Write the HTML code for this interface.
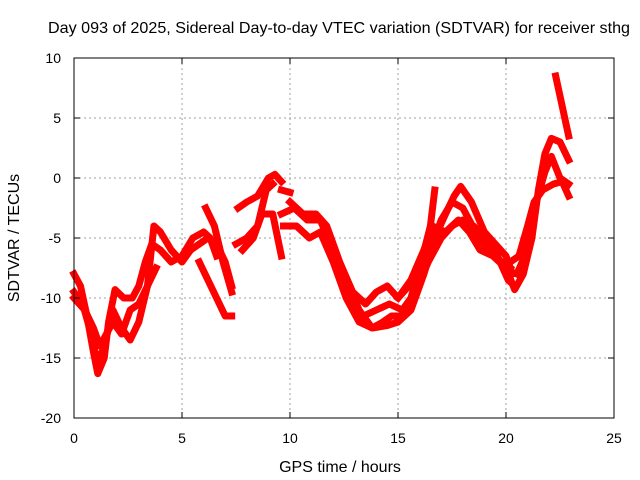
<!DOCTYPE html>
<html><head><meta charset="utf-8"><style>
body{margin:0;background:#fff}
svg{display:block;font-family:"Liberation Sans",sans-serif}
</style></head><body>
<svg id="chart" width="640" height="480">
<rect width="640" height="480" fill="#fff"/>
<text x="339" y="33" text-anchor="middle" font-size="16" textLength="582" lengthAdjust="spacingAndGlyphs">Day 093 of 2025, Sidereal Day-to-day VTEC variation (SDTVAR) for receiver sthg</text>
<text x="340" y="472" text-anchor="middle" font-size="16">GPS time / hours</text>
<text transform="translate(19,238) rotate(-90)" text-anchor="middle" font-size="16">SDTVAR / TECUs</text>
<g id="grid"></g><g id="series"></g><g id="axes"></g>
</svg>
<script>
const xTicks=[0,5,10,15,20,25];
const yTicks=[10,5,0,-5,-10,-15,-20];
const s1=[[0,-8],[0.3,-9],[0.6,-11.5],[0.9,-14.5],[1.1,-16.3],[1.4,-15],[1.6,-12],[1.9,-9.3],[2.3,-10],[2.7,-10],[3.0,-9],[3.3,-7],[3.6,-5.5],[4.0,-6],[4.5,-7],[5.0,-6.5],[5.5,-5],[6.0,-4.5],[6.3,-5],[6.6,-6.5]];
const s2=[[0,-9.5],[0.4,-10.5],[0.8,-13],[1.1,-15.5],[1.4,-14],[1.8,-11],[2.2,-12.5],[2.6,-13.5],[3.0,-12],[3.4,-9],[3.7,-4],[4.0,-4.5],[4.5,-6],[5.0,-7],[5.4,-6],[5.8,-5.5],[6.2,-5],[6.6,-5.5],[7.0,-7],[7.3,-9]];
const s3=[[0,-10],[0.5,-11],[0.9,-12.5],[1.2,-14],[1.5,-13],[1.8,-12],[2.2,-13],[2.6,-11],[3.0,-10.5],[3.4,-9],[3.8,-7.5]];
const s4=[[5.8,-7],[6.2,-8.5],[6.6,-10],[7.0,-11.5],[7.3,-11.5]];
const s5=[[6.1,-2.5],[6.5,-4],[6.9,-7],[7.3,-9.5]];
const s6=[[7.6,-2.5],[8.0,-2],[8.5,-1.5],[9.0,0],[9.3,0.3],[9.6,-0.3]];
const s7=[[7.5,-5.5],[8.0,-5],[8.5,-4],[8.9,-1],[9.2,-0.5]];
const s8=[[7.8,-6],[8.3,-5],[8.7,-3],[9.2,-3],[9.6,-6.5]];
const s9=[[9.6,-1],[10.0,-1.2]];
const d1=[[9.6,-3],[10.2,-2.5],[10.8,-3.5],[11.4,-3.5],[12.0,-6],[12.6,-8.5],[13.2,-11],[13.8,-12.5],[14.3,-12],[14.7,-11.5],[15.2,-11.5],[15.6,-10],[16.0,-7.5],[16.5,-4],[16.7,-1]];
const d2=[[9.7,-4],[10.3,-4],[10.9,-5],[11.4,-4.5],[12.0,-7],[12.6,-10],[13.2,-12],[13.8,-12.5],[14.5,-12.3],[15.0,-12],[15.6,-11],[16.2,-8],[16.7,-5],[17.2,-3],[17.6,-1.5],[17.9,-0.7],[18.4,-2],[19.0,-4.5],[19.5,-5.5],[20.0,-6.5],[20.3,-8]];
const d3=[[10,-2],[10.6,-3],[11.2,-3],[11.7,-4],[12.3,-7],[12.9,-9.5],[13.5,-10.5],[14.0,-9.5],[14.5,-9],[15.0,-10],[15.5,-9],[16.0,-8],[16.5,-6],[17.0,-3.5],[17.5,-2],[18.0,-2.5],[18.6,-4.5],[19.2,-6],[19.8,-7],[20.2,-7.5]];
const d4=[[12.2,-7.5],[12.8,-10.5],[13.4,-11.5],[14.0,-11],[14.6,-10.5],[15.2,-11],[15.8,-9.5],[16.4,-7],[17.0,-5],[17.5,-4],[18.0,-3.5],[18.5,-4],[19.0,-5],[19.6,-6.5],[20.1,-8.5],[20.4,-9]];
const d5=[[15.0,-10],[15.6,-8.5],[16.2,-6],[16.6,-4],[17.2,-4.5],[17.8,-3.5],[18.3,-4.5],[18.8,-6],[19.4,-6.5],[20.0,-7.5],[20.4,-9.3],[20.8,-8],[21.2,-5],[21.5,-1],[21.8,2],[22.1,3.3],[22.5,3],[22.9,1.5]];
const e1=[[20.2,-7],[20.6,-6.5],[21.0,-4],[21.3,-2],[21.7,-1],[22.2,-0.5],[22.6,-0.3],[22.9,-1.5]];
const e2=[[20.5,-8],[21.0,-6],[21.4,-2],[21.8,0.5],[22.1,1.8],[22.5,0],[22.9,-0.5]];
const e3=[[22.3,8.5],[22.6,6],[22.9,3.5]];
const allSeries=[s1,s2,s3,s4,s5,s6,s7,s8,s9,d1,d2,d3,d4,d5,e1,e2,e3];
const X0=74,X1=614,Y0=418,Y1=58;
const xs=t=>X0+(t-0)/25*(X1-X0);
const ys=v=>Y0-(v+20)/30*(Y0-Y1);
const NS="http://www.w3.org/2000/svg";
function mk(tag,attrs,parent){const e=document.createElementNS(NS,tag);for(const k in attrs)e.setAttribute(k,attrs[k]);parent.appendChild(e);return e;}
const grid=document.getElementById('grid'),axes=document.getElementById('axes'),ser=document.getElementById('series');
xTicks.forEach(t=>{
  if(t>0&&t<25){const l=mk('line',{x1:xs(t),x2:xs(t),y1:Y1,y2:Y0,stroke:'#a0a0a0','stroke-dasharray':'2,3'},grid);
  
  }
  mk('line',{x1:xs(t),x2:xs(t),y1:Y0,y2:Y0-6,stroke:'#000'},axes);
  mk('line',{x1:xs(t),x2:xs(t),y1:Y1,y2:Y1+6,stroke:'#000'},axes);
  const tx=mk('text',{x:xs(t),y:443,'text-anchor':'middle','font-size':14},axes);tx.textContent=t;
  
  
});
yTicks.forEach(v=>{
  if(v>-20&&v<10){const l=mk('line',{x1:X0,x2:X1,y1:ys(v),y2:ys(v),stroke:'#a0a0a0','stroke-dasharray':'2,3'},grid);
  
  }
  mk('line',{x1:X0,x2:X0+6,y1:ys(v),y2:ys(v),stroke:'#000'},axes);
  mk('line',{x1:X1,x2:X1-6,y1:ys(v),y2:ys(v),stroke:'#000'},axes);
  const tx=mk('text',{x:61,y:ys(v)+5,'text-anchor':'end','font-size':14},axes);tx.textContent=v;
  
  
});
const fr=mk('rect',{x:X0,y:Y1,width:X1-X0,height:Y0-Y1,fill:'none',stroke:'#000'},axes);


allSeries.forEach(s=>{
  const p=mk('polyline',{points:s.map(d=>xs(d[0])+','+ys(d[1])).join(' '),fill:'none',stroke:'#ff0000','stroke-width':7,'stroke-linejoin':'round','stroke-linecap':'square'},ser);
  
  
});
</script>
</body></html>
